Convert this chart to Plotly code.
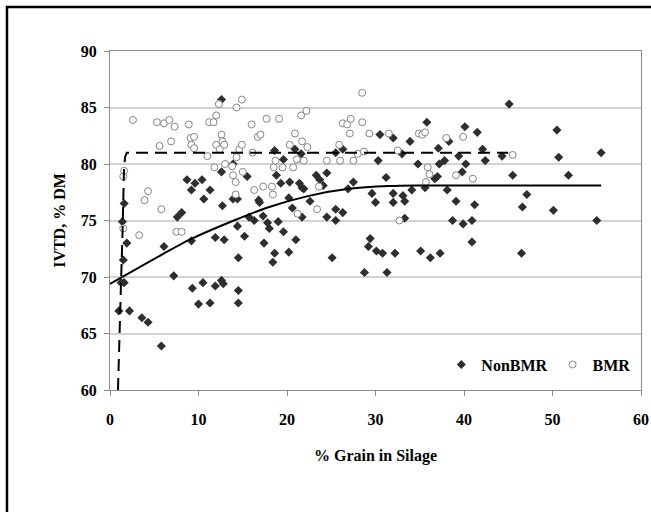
import plotly.graph_objects as go

# NonBMR samples (% grain in silage, IVTD % DM)
nonbmr_x = [1.0, 1.26, 1.6, 1.5, 1.4, 1.6, 1.9, 2.2, 3.6, 4.3, 5.8, 6.1, 7.2, 7.6, 8.1,
            8.7, 9.2, 9.6, 10.4, 10.6, 11.3, 9.2, 9.3, 10.0, 10.5, 11.3, 11.9, 12.6, 12.8,
            11.9, 12.6, 12.6, 12.7, 12.9, 13.9, 13.9, 14.4, 14.4, 14.5, 14.5, 14.5, 15.2,
            15.5, 15.7, 16.3, 16.8, 16.9, 17.3, 17.4, 17.8, 18.0, 18.4, 18.6, 18.6, 18.8,
            19.0, 19.3, 19.6, 19.6, 20.2, 20.2, 20.3, 20.6, 20.9, 21.0, 21.4, 21.6, 21.7,
            21.7, 21.9, 22.6, 23.3, 23.7, 24.1, 24.5, 24.5, 25.1, 25.5, 25.5, 25.5, 26.3,
            26.3, 26.9, 27.5, 28.75, 29.2, 29.4, 29.6, 30.0, 30.1, 30.3, 30.5, 30.8, 31.2,
            31.3, 32.0, 32.0, 32.0, 32.2, 33.0, 33.1, 33.3, 33.3, 33.9, 34.1, 34.8, 35.1,
            35.6, 35.8, 36.2, 36.7, 37.0, 37.1, 37.2, 37.3, 37.8, 38.1, 38.3, 38.7, 39.1,
            39.4, 39.8, 39.9, 40.1, 40.2, 40.9, 40.9, 41.2, 41.5, 42.1, 42.4, 44.3, 45.1,
            45.5, 46.5, 46.6, 47.1, 50.1, 50.5, 50.7, 51.8, 55.0, 55.5]
nonbmr_y = [67.0, 69.5, 69.5, 71.5, 74.9, 76.5, 73.0, 67.0, 66.4, 66.0, 63.9, 72.7, 70.1, 75.3, 75.7,
            78.6, 77.7, 78.3, 78.6, 76.9, 77.7, 73.2, 69.0, 67.6, 69.5, 67.7, 69.2, 69.7, 69.4,
            73.5, 85.7, 79.3, 76.3, 73.3, 80.0, 76.9, 76.9, 74.5, 71.7, 68.8, 67.7, 73.6,
            78.9, 75.3, 75.0, 76.8, 76.6, 75.4, 73.0, 74.8, 74.3, 71.3, 72.1, 81.2, 79.0,
            74.9, 78.3, 80.4, 74.0, 72.2, 77.0, 78.4, 76.1, 81.3, 73.3, 78.3, 80.9, 77.9,
            75.3, 77.8, 76.7, 79.0, 78.6, 78.1, 79.2, 75.3, 71.7, 75.0, 76.0, 81.0, 75.7,
            81.3, 77.8, 78.4, 70.4, 72.7, 73.4, 77.4, 76.6, 72.3, 80.3, 82.6, 72.1, 78.8,
            70.4, 82.3, 77.4, 76.6, 72.1, 80.9, 77.2, 76.7, 75.2, 82.0, 77.7, 80.0, 72.3,
            77.9, 83.7, 71.7, 78.7, 78.9, 81.4, 80.0, 72.1, 80.3, 77.7, 82.0, 75.0, 76.7,
            80.7, 79.3, 74.7, 83.3, 80.0, 73.1, 75.0, 76.4, 82.8, 81.3, 80.3, 80.7, 85.3,
            79.0, 72.1, 76.2, 77.3, 75.9, 83.0, 80.6, 79.0, 75.0, 81.0]

# BMR samples
bmr_x = [1.5, 1.6, 1.5, 2.6, 3.3, 3.9, 4.3, 5.3, 5.6, 5.8, 6.1, 6.7, 6.9, 7.3, 7.5, 8.1,
         8.9, 9.1, 9.2, 9.5, 9.5, 11.0, 11.2, 11.7, 11.8, 12.0, 12.0, 12.3, 12.4, 12.6,
         12.7, 12.9, 13.0, 13.8, 13.9, 14.2, 14.2, 14.3, 14.3, 14.6, 14.9, 14.9, 15.0,
         16.0, 16.1, 16.3, 16.7, 17.0, 17.3, 17.7, 18.3, 18.4, 18.5, 18.7, 19.1, 19.5,
         20.3, 20.7, 20.9, 21.1, 21.2, 21.6, 21.7, 21.9, 22.2, 22.3, 23.4, 23.6, 24.5,
         25.9, 26.0, 26.3, 26.8, 27.1, 27.2, 27.5, 28.0, 28.5, 28.5, 28.7, 29.3, 31.5,
         32.5, 32.7, 34.9, 35.3, 35.6, 35.7, 35.9, 36.1, 38.0, 39.1, 39.9, 41.0, 45.5]
bmr_y = [78.9, 79.4, 74.3, 83.9, 73.7, 76.8, 77.6, 83.7, 81.6, 76.0, 83.6, 83.9, 82.0, 83.3, 74.0, 74.0,
         83.5, 82.3, 81.7, 82.4, 81.4, 80.7, 83.7, 83.7, 79.7, 84.3, 81.7, 85.3, 81.3, 82.6,
         82.0, 81.7, 80.0, 79.8, 79.0, 77.3, 78.4, 85.0, 80.6, 81.3, 85.7, 81.7, 79.3,
         83.5, 81.0, 77.7, 82.4, 82.6, 78.0, 84.0, 78.0, 77.3, 79.7, 80.3, 84.0, 79.7,
         81.7, 79.7, 82.7, 80.4, 75.6, 84.3, 82.0, 80.3, 84.7, 81.5, 76.0, 78.0, 80.3,
         81.7, 80.3, 83.6, 83.5, 82.7, 84.0, 80.3, 80.9, 86.3, 83.7, 81.1, 82.7, 82.7,
         81.2, 75.0, 82.7, 82.6, 82.8, 78.4, 79.7, 79.1, 82.3, 79.0, 82.4, 78.7, 80.8]

# Fitted curves
nonbmr_fit_x = [0, 5, 9, 14, 18, 22.6, 27, 31.5, 35, 55.5]
nonbmr_fit_y = [69.4, 71.6, 73.3, 75.0, 76.2, 77.2, 77.8, 78.05, 78.1, 78.1]
bmr_fit_x = [0.9, 1.1, 1.26, 1.4, 1.5, 1.58, 1.7, 1.9, 45.0]
bmr_fit_y = [60.0, 64.5, 69.9, 73.5, 77.0, 79.5, 80.6, 81.0, 81.0]

x_ticks = [0, 10, 20, 30, 40, 50, 60]
y_ticks = [60, 65, 70, 75, 80, 85, 90]

FONT = "Liberation Serif"

fig = go.Figure()
fig.add_trace(go.Scatter(
    x=nonbmr_x, y=nonbmr_y, mode="markers", name="NonBMR",
    marker=dict(symbol="diamond", size=7, color="#2e2e2e", line=dict(width=0)),
))
fig.add_trace(go.Scatter(
    x=bmr_x, y=bmr_y, mode="markers", name="BMR",
    marker=dict(symbol="circle", size=7, color="white", line=dict(width=1, color="#858585")),
))
fig.add_trace(go.Scatter(
    x=nonbmr_fit_x, y=nonbmr_fit_y, mode="lines", showlegend=False,
    line=dict(color="black", width=2, shape="spline", smoothing=0.8),
))
fig.add_trace(go.Scatter(
    x=bmr_fit_x, y=bmr_fit_y, mode="lines", showlegend=False,
    line=dict(color="black", width=2, dash="12px,7px", shape="linear"),
))

axis_common = dict(
    showline=True, linecolor="#8c8c8c", linewidth=1, mirror=True,
    ticks="outside", ticklen=5, tickcolor="#8c8c8c",
    tickfont=dict(family=FONT, size=16, color="black", weight="bold"),
    zeroline=False,
)
fig.update_xaxes(
    range=[0, 60], tickvals=x_ticks, showgrid=False, ticklabelstandoff=10,
    title=dict(text="% Grain in Silage", standoff=22,
               font=dict(family=FONT, size=16, color="black", weight="bold")),
    **axis_common,
)
fig.update_yaxes(
    range=[60, 90], tickvals=y_ticks, showgrid=True, gridcolor="#d3d3d3", gridwidth=1.5,
    ticklabelstandoff=4,
    title=dict(text="IVTD, % DM", standoff=11,
               font=dict(family=FONT, size=16, color="black", weight="bold")),
    **axis_common,
)

fig.add_shape(type="rect", xref="paper", yref="paper",
              x0=-0.194, x1=1.05, y0=-0.40, y1=1.13,
              line=dict(color="black", width=2.5), fillcolor="rgba(0,0,0,0)", layer="above")

fig.update_layout(
    width=651, height=512,
    margin=dict(l=110, r=10, t=51, b=122, autoexpand=False),
    paper_bgcolor="white", plot_bgcolor="white",
    showlegend=True,
    legend=dict(orientation="h", x=0.624, y=0.075, xanchor="left", yanchor="middle",
                bgcolor="rgba(0,0,0,0)", itemwidth=30,
                font=dict(family=FONT, size=16, color="black", weight="bold")),
)

fig.write_html("out.html", config={"displayModeBar": False},
               post_script="document.body.style.margin='0';")
